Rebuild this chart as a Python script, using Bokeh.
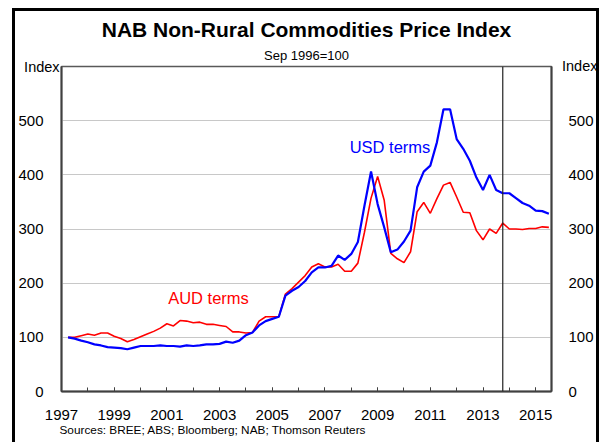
import pandas as pd
from bokeh.plotting import figure
from bokeh.models import Range1d, LinearAxis, FixedTicker, Span, Label, Title
from bokeh.embed import file_html
from bokeh.resources import INLINE

# ---- data (quarterly, Sep 1996 = 100) ----
quarters = pd.period_range("1997Q1", "2015Q2", freq="Q")
usd_terms = [
    100, 97.7, 94, 91,
    87, 85, 82, 81,
    80, 78, 81, 84,
    84, 84, 85, 84,
    84, 83, 85, 84,
    85, 87, 87, 88,
    92, 90, 94, 104,
    109, 122, 130, 134,
    138, 177, 186, 193,
    204, 220, 229, 229,
    232, 251, 243, 254,
    276, 343, 406, 346,
    303, 257, 262, 277,
    297, 377, 406, 417,
    460, 521, 521, 466,
    448, 426, 395, 372,
    400, 372, 366, 366,
    357, 348, 343, 334,
    333, 328,
]
aud_terms = [
    100, 100, 103, 106,
    104, 108, 108, 102,
    98, 92, 96, 101,
    106, 111, 117, 125,
    121, 131, 130, 127,
    128, 124, 124, 122,
    120, 110, 110, 108,
    109, 130, 138, 138,
    138, 180, 190, 202,
    214, 230, 236, 230,
    230, 235, 222, 222,
    237, 294, 357, 397,
    353, 255, 245, 238,
    258, 332, 349, 329,
    356, 381, 386, 359,
    331, 330, 297, 280,
    300, 292, 311, 300,
    300, 299, 301, 301,
    304, 303,
]
forecast_start = 2013.75
y_ticks = [0, 100, 200, 300, 400, 500]
year_ticks = list(range(1997, 2016))
year_labels = list(range(1997, 2016, 2))

title_text = "NAB Non-Rural Commodities Price Index"
subtitle_text = "Sep 1996=100"
unit_text = "Index"
source_text = "Sources: BREE; ABS; Bloomberg; NAB; Thomson Reuters"

# decimal year at quarter end
xq = [q.year + q.quarter * 0.25 for q in quarters]

FONT = "Liberation Sans"
AXIS_COL = "#404040"
W, H = 581, 434
ML, MR, MT, MB = 42, 41, 55, 54
FRAME_W = W - ML - MR

p = figure(width=W, height=H,
           x_range=Range1d(1997, 2015.6), y_range=Range1d(0, 600),
           output_backend="svg", toolbar_location=None, title=None,
           min_border_left=ML, min_border_right=MR,
           min_border_top=MT, min_border_bottom=MB)
p.margin = (11, 0, 0, 15)
# outer frame drawn as shadows so it takes no layout space
p.styles = {"box-shadow": "-3px -3px 0 0 #000, 3px -3px 0 0 #000"}

p.outline_line_color = "#595959"
p.outline_line_width = 1.5
p.xgrid.visible = False
p.ygrid.ticker = FixedTicker(ticks=y_ticks)
p.ygrid.grid_line_color = "#c8c8c8"
p.ygrid.grid_line_width = 1

# left axis
ya = p.yaxis[0]
ya.ticker = FixedTicker(ticks=y_ticks)
ya.major_tick_line_color = None
ya.minor_tick_line_color = None
ya.axis_line_color = AXIS_COL
ya.axis_line_width = 2
ya.major_label_text_font = FONT
ya.major_label_text_font_size = "15px"
ya.major_label_text_color = "#000"
ya.major_label_standoff = 12

# right axis
ra = LinearAxis(ticker=FixedTicker(ticks=y_ticks))
ra.major_tick_line_color = None
ra.minor_tick_line_color = None
ra.axis_line_color = AXIS_COL
ra.axis_line_width = 2
ra.major_label_text_font = FONT
ra.major_label_text_font_size = "15px"
ra.major_label_text_color = "#000"
ra.major_label_standoff = 11
p.add_layout(ra, "right")

# bottom axis
xa = p.xaxis[0]
xa.ticker = FixedTicker(ticks=year_labels, minor_ticks=year_ticks)
xa.major_tick_in = 4
xa.major_tick_out = 0
xa.minor_tick_in = 4
xa.minor_tick_out = 0
xa.major_tick_line_color = AXIS_COL
xa.minor_tick_line_color = AXIS_COL
xa.axis_line_color = AXIS_COL
xa.axis_line_width = 2
xa.major_label_text_font = FONT
xa.major_label_text_font_size = "15px"
xa.major_label_text_color = "#000"
xa.major_label_standoff = 18

# "Index" unit labels at the top of both axes: near-zero-height title rows
p.add_layout(Title(text=unit_text, align="left", offset=-37.4, standoff=-17.2,
                   text_font=FONT, text_font_size="14.5px",
                   text_font_style="normal", text_color="#000"), "above")
p.add_layout(Title(text=unit_text, align="left", offset=FRAME_W + 2.5,
                   standoff=-17.2, text_font=FONT, text_font_size="14.5px",
                   text_font_style="normal", text_color="#000"), "above")
# titles
p.add_layout(Title(text=subtitle_text, align="center", text_font=FONT,
                   text_font_size="13px", text_font_style="normal",
                   text_color="#000", standoff=4), "above")
p.add_layout(Title(text=title_text, align="center", text_font=FONT,
                   text_font_size="21px", text_font_style="bold",
                   text_color="#000", standoff=6), "above")
p.add_layout(Title(text=source_text, align="left", text_font=FONT,
                   text_font_size="11.8px", text_font_style="normal",
                   text_color="#000", offset=-2, standoff=-3), "below")

# forecast divider
p.add_layout(Span(location=forecast_start, dimension="height",
                  line_color="#222222", line_width=1.2))

p.line(xq, aud_terms, line_color="#ff0000", line_width=1.6)
p.line(xq, usd_terms, line_color="#0000ff", line_width=2.2)

p.add_layout(Label(x=2009.47, y=452, text="USD terms", text_font=FONT,
                   text_font_size="16.5px", text_align="center",
                   text_baseline="middle", text_color="#0000ff"))
p.add_layout(Label(x=2002.58, y=173, text="AUD terms", text_font=FONT,
                   text_font_size="16.5px", text_align="center",
                   text_baseline="middle", text_color="#ff0000"))

open("out.html", "w").write(file_html(p, INLINE))
